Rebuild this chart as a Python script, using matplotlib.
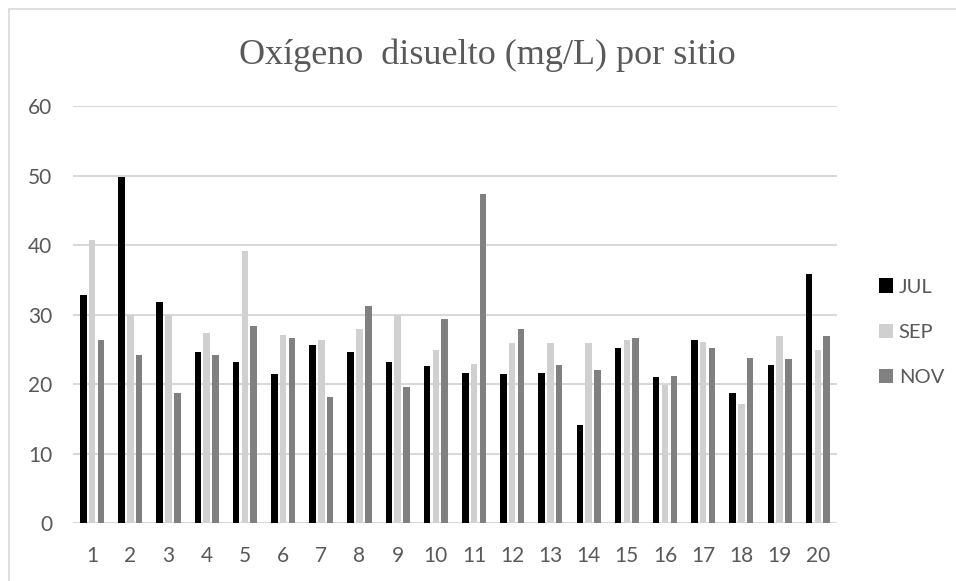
import numpy as np
import matplotlib.pyplot as plt
from matplotlib.patches import Rectangle

# datos
sitios = [str(i) for i in range(1, 21)]
jul = [32.8, 49.8, 31.8, 24.7, 23.2, 21.4, 25.7, 24.7, 23.2, 22.6,
       21.6, 21.4, 21.6, 14.2, 25.2, 21.1, 26.4, 18.7, 22.7, 35.8]
sep = [40.7, 29.9, 29.9, 27.3, 39.1, 27.1, 26.4, 27.9, 29.9, 24.9,
       22.9, 25.9, 25.9, 25.9, 26.4, 19.9, 26.0, 17.2, 26.9, 24.9]
nov = [26.4, 24.2, 18.7, 24.2, 28.3, 26.6, 18.2, 31.2, 19.6, 29.4,
       47.4, 27.9, 22.7, 22.0, 26.7, 21.2, 25.2, 23.8, 23.6, 26.9]

series = [("JUL", jul, "#000000"), ("SEP", sep, "#D0D0D0"), ("NOV", nov, "#808080")]

txt_color = "#595959"
font = "Lato"

fig = plt.figure(figsize=(9.56, 5.81), dpi=100)
ax = fig.add_axes([0.0764, 0.0993, 0.799, 0.7183])

# marco del area del grafico
fig.patches.append(Rectangle((9 / 956, -0.1), 1.2, 1 - 9 / 581 + 0.1,
                             transform=fig.transFigure, fill=False,
                             edgecolor="#D9D9D9", linewidth=1.2))

x = np.arange(len(sitios))
w = 0.17
step = 0.23
for i, (name, vals, col) in enumerate(series):
    ax.bar(x + (i - 1) * step, vals, width=w, color=col, label=name, zorder=3)

ax.set_xlim(-0.5, len(sitios) - 0.5)
ax.set_ylim(0, 60)
ax.set_yticks(range(0, 61, 10))
ax.set_xticks(x)
ax.set_xticklabels(sitios)
ax.yaxis.grid(True, color="#D9D9D9", linewidth=1.5, zorder=0)
ax.set_axisbelow(True)
for s in ["top", "right", "left", "bottom"]:
    ax.spines[s].set_visible(False)
ax.tick_params(length=0, colors=txt_color, labelsize=15)
ax.tick_params(axis="y", pad=15)
ax.tick_params(axis="x", pad=16)
for lab in ax.get_xticklabels() + ax.get_yticklabels():
    lab.set_fontfamily(font)

fig.text(0.51, 0.905, "Oxígeno  disuelto (mg/L) por sitio", ha="center", va="center",
         fontsize=26, color=txt_color, family="Liberation Serif")

leg = fig.legend(loc="center left", bbox_to_anchor=(0.919, 0.428), frameon=False,
                 borderaxespad=0, borderpad=0,
                 handlelength=0.7, handleheight=0.7, handletextpad=0.3,
                 labelspacing=1.4, prop={"family": font, "size": 14.5})
for t in leg.get_texts():
    t.set_color(txt_color)

fig.savefig("out.png", dpi=100)
